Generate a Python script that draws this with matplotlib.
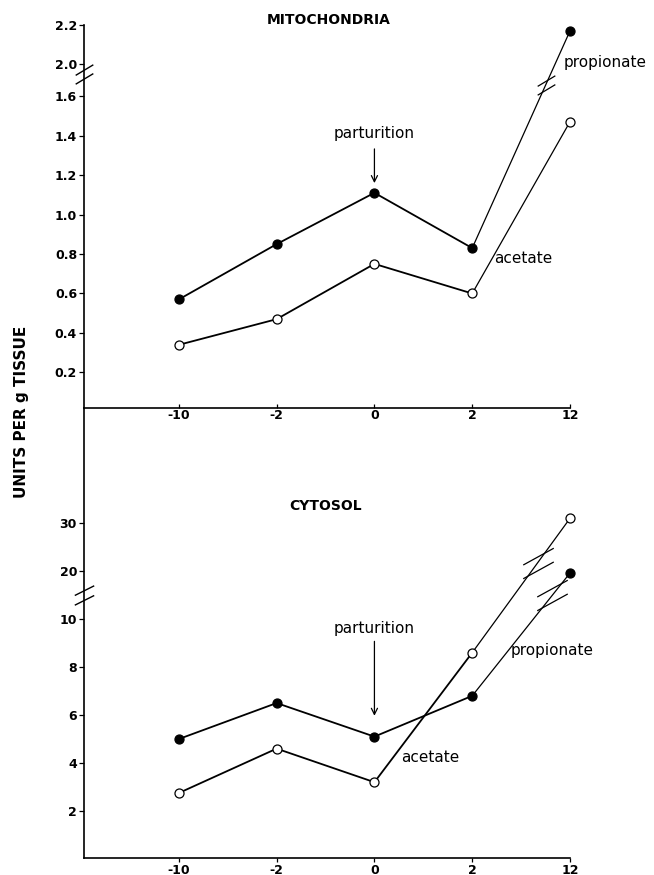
import matplotlib.pyplot as plt
from matplotlib.path import Path

plt.rcParams['font.family'] = ['DejaVu Sans']

# days relative to parturition
days = ['-10', '-2', '0', '2', '12']

# enzyme activity, units per g tissue
mito_propionate = [0.57, 0.85, 1.11, 0.83, 2.17]
mito_acetate = [0.34, 0.47, 0.75, 0.60, 1.47]
cyto_propionate = [5.0, 6.5, 5.1, 6.8, 19.6]
cyto_acetate = [2.75, 4.6, 3.2, 8.6, 31.0]

mito_ticks = [0.2, 0.4, 0.6, 0.8, 1.0, 1.2, 1.4, 1.6, 2.0, 2.2]
mito_labels = ['0.2', '0.4', '0.6', '0.8', '1.0', '1.2', '1.4', '1.6', '2.0', '2.2']
cyto_ticks = [2, 4, 6, 8, 10, 20, 30]
cyto_labels = ['2', '4', '6', '8', '10', '20', '30']


def mito_scale(v):
    # axis is broken between 1.6 and 2.0
    return v if v < 1.8 else v - 0.24


def cyto_scale(v):
    # axis is broken between 10 and 20, upper part compressed
    return v if v < 15 else 12 + (v - 20) * 0.2


def break_marker(slope, gap):
    verts = [(-1, -slope + gap / 2), (1, slope + gap / 2),
             (-1, -slope - gap / 2), (1, slope - gap / 2)]
    codes = [Path.MOVETO, Path.LINETO, Path.MOVETO, Path.LINETO]
    return Path(verts, codes)


def draw_series(ax, values, scale, filled):
    x = list(range(len(values)))
    y = [scale(v) for v in values]
    face = 'black' if filled else 'white'
    ax.plot(x[:4], y[:4], color='black', lw=1.3, zorder=2)
    ax.plot(x[3:], y[3:], color='black', lw=0.9, zorder=2)
    ax.plot(x, y, ls='none', marker='o', ms=6.5, mfc=face, mec='black',
            mew=0.9, zorder=3, clip_on=False)
    return x, y


def line_break(ax, x, y, frac, size, slope, gap):
    bx = x[3] + (x[4] - x[3]) * frac
    by = y[3] + (y[4] - y[3]) * frac
    ax.plot([bx], [by], ls='none', marker=break_marker(slope, gap), ms=size,
            mec='black', mew=0.9, zorder=4)


def style_axes(ax, scale, ticks, labels, xdir):
    ax.patch.set_visible(False)
    for side in ['top', 'right']:
        ax.spines[side].set_visible(False)
    for side in ['left', 'bottom']:
        ax.spines[side].set_linewidth(1.2)
    ax.set_xlim(-0.97, 4.0)
    ax.set_xticks(range(len(days)))
    ax.set_xticklabels(days)
    ax.set_yticks([scale(t) for t in ticks])
    ax.set_yticklabels(labels)
    ax.tick_params(axis='y', direction='out', length=3.5, width=0.9, pad=1.5)
    ax.tick_params(axis='x', direction=xdir, length=3, width=0.9, pad=1)
    for lab in ax.get_xticklabels() + ax.get_yticklabels():
        lab.set_fontsize(9)
        lab.set_fontweight('bold')


fig = plt.figure(figsize=(6.54, 8.75), dpi=100)
ax1 = fig.add_axes([84 / 654, 1 - 408 / 875, 486 / 654, 383 / 875])
ax2 = fig.add_axes([84 / 654, 1 - 858 / 875, 486 / 654, 450 / 875])

# mitochondria
x, yp = draw_series(ax1, mito_propionate, mito_scale, True)
draw_series(ax1, mito_acetate, mito_scale, False)
line_break(ax1, x, yp, 0.75, 14, 0.6, 1.0)
ax1.set_ylim(0.02, 1.96)
style_axes(ax1, mito_scale, mito_ticks, mito_labels, 'in')
ax1.plot([-0.97], [1.71], ls='none', marker=break_marker(0.6, 1.0), ms=14,
         mec='black', mew=1.0, clip_on=False, zorder=5)
ax1.annotate('parturition', xy=(2, mito_scale(mito_propionate[2])),
             xytext=(0, 43), textcoords='offset points', ha='center',
             va='center', fontsize=11,
             arrowprops=dict(arrowstyle='->', lw=0.9, color='black',
                             shrinkA=4, shrinkB=7))
ax1.text(3.93, 1.77, 'propionate', fontsize=11, va='center', ha='left')
ax1.text(3.22, 0.775, 'acetate', fontsize=11, va='center', ha='left')

# cytosol
x, yp = draw_series(ax2, cyto_propionate, cyto_scale, True)
x, ya = draw_series(ax2, cyto_acetate, cyto_scale, False)
line_break(ax2, x, ya, 0.67, 22, 0.55, 0.9)
line_break(ax2, x, yp, 0.82, 22, 0.55, 0.9)
ax2.set_ylim(0.04, 18.8)
style_axes(ax2, cyto_scale, cyto_ticks, cyto_labels, 'out')
ax2.plot([-0.97], [11.0], ls='none', marker=break_marker(0.5, 1.0), ms=14,
         mec='black', mew=1.0, clip_on=False, zorder=5)
ax2.annotate('parturition', xy=(2, cyto_scale(cyto_propionate[2])),
             xytext=(0, 78), textcoords='offset points', ha='center',
             va='center', fontsize=11,
             arrowprops=dict(arrowstyle='->', lw=0.9, color='black',
                             shrinkA=2, shrinkB=15))
ax2.text(3.39, 8.7, 'propionate', fontsize=11, va='center', ha='left')
ax2.text(2.27, 4.25, 'acetate', fontsize=11, va='center', ha='left')

fig.text(329 / 654, 1 - 20 / 875, 'MITOCHONDRIA', fontsize=10,
         fontweight='bold', ha='center', va='center')
fig.text(326 / 654, 1 - 506 / 875, 'CYTOSOL', fontsize=10,
         fontweight='bold', ha='center', va='center')
fig.text(22 / 654, 1 - 412 / 875, 'UNITS PER g TISSUE', fontsize=11,
         fontweight='bold', rotation=90, ha='center', va='center')

fig.savefig('out.png', dpi=100)
